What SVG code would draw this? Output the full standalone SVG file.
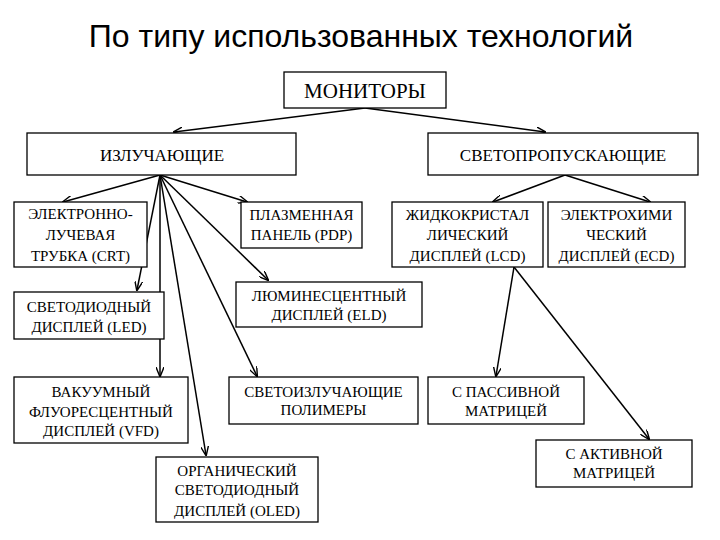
<svg xmlns="http://www.w3.org/2000/svg" width="720" height="540" viewBox="0 0 720 540">
<defs>
<marker id="arr" viewBox="0 0 10 8" refX="9" refY="4" markerWidth="10" markerHeight="8" markerUnits="userSpaceOnUse" orient="auto">
<path d="M0,0 L10,4 L0,8" fill="none" stroke="#000" stroke-width="1.4"/>
</marker>
<style>
.box{fill:#fff;stroke:#000;stroke-width:1.3}
.t{font-size:15px;text-anchor:middle;fill:#000}
.big{font-size:17px}
.title{font-family:'Liberation Sans',Arial,sans-serif;font-size:32px;text-anchor:middle;fill:#000}
.c{stroke:#000;stroke-width:1.5;fill:none;marker-end:url(#arr)}
</style>
</defs>
<rect width="720" height="540" fill="#fff"/>
<text class="title" x="361" y="47">По типу использованных технологий</text>
<g id="connectors">
<line class="c" x1="365" y1="108" x2="174" y2="132"/>
<line class="c" x1="365" y1="108" x2="545" y2="132"/>
<line class="c" x1="565" y1="175" x2="493" y2="202"/>
<line class="c" x1="565" y1="175" x2="650" y2="202"/>
<line class="c" x1="514" y1="267" x2="496" y2="376"/>
<line class="c" x1="514" y1="267" x2="649" y2="439"/>
<line class="c" x1="160" y1="175" x2="63" y2="202"/>
<line class="c" x1="160" y1="175" x2="247" y2="202"/>
<line class="c" x1="160" y1="175" x2="137" y2="290"/>
<line class="c" x1="160" y1="175" x2="268" y2="280"/>
<line class="c" x1="160" y1="175" x2="160" y2="376"/>
<line class="c" x1="160" y1="175" x2="206" y2="455"/>
<line class="c" x1="160" y1="175" x2="257" y2="376"/>
</g>
<g id="nodes" font-family="Liberation Serif, Tinos, Times New Roman, DejaVu Serif, serif">
<g id="monitors"><rect class="box" x="284" y="72" width="162" height="36"/><text class="t" style="font-size:21px" x="365" y="98">МОНИТОРЫ</text></g>
<g id="emitting"><rect class="box" x="27" y="133" width="269" height="42"/><text class="t big" x="162" y="161">ИЗЛУЧАЮЩИЕ</text></g>
<g id="transmitting"><rect class="box" x="428" y="133" width="270" height="42"/><text class="t big" x="563" y="161">СВЕТОПРОПУСКАЮЩИЕ</text></g>
<g id="crt"><rect class="box" x="14" y="202" width="133" height="65"/><text class="t" x="80.5" y="219">ЭЛЕКТРОННО-</text><text class="t" x="80.5" y="240">ЛУЧЕВАЯ</text><text class="t" x="80.5" y="261">ТРУБКА (CRT)</text></g>
<g id="pdp"><rect class="box" x="241" y="202" width="121" height="46"/><text class="t" x="301.5" y="220">ПЛАЗМЕННАЯ</text><text class="t" x="301.5" y="240">ПАНЕЛЬ (PDP)</text></g>
<g id="lcd"><rect class="box" x="392" y="202" width="151" height="65"/><text class="t" x="467.5" y="220">ЖИДКОКРИСТАЛ</text><text class="t" x="467.5" y="240">ЛИЧЕСКИЙ</text><text class="t" x="467.5" y="261">ДИСПЛЕЙ (LCD)</text></g>
<g id="ecd"><rect class="box" x="548" y="202" width="137" height="65"/><text class="t" x="616.5" y="220">ЭЛЕКТРОХИМИ</text><text class="t" x="616.5" y="240">ЧЕСКИЙ</text><text class="t" x="616.5" y="261">ДИСПЛЕЙ (ECD)</text></g>
<g id="led"><rect class="box" x="14" y="292" width="150" height="47"/><text class="t" x="89" y="312">СВЕТОДИОДНЫЙ</text><text class="t" x="89" y="332">ДИСПЛЕЙ (LED)</text></g>
<g id="eld"><rect class="box" x="236" y="282" width="186" height="45"/><text class="t" x="329" y="301">ЛЮМИНЕСЦЕНТНЫЙ</text><text class="t" x="329" y="320">ДИСПЛЕЙ (ELD)</text></g>
<g id="vfd"><rect class="box" x="14" y="377" width="174" height="66"/><text class="t" x="101" y="397">ВАКУУМНЫЙ</text><text class="t" x="101" y="417">ФЛУОРЕСЦЕНТНЫЙ</text><text class="t" x="101" y="436">ДИСПЛЕЙ (VFD)</text></g>
<g id="lep"><rect class="box" x="229" y="377" width="189" height="47"/><text class="t" x="323.5" y="397">СВЕТОИЗЛУЧАЮЩИЕ</text><text class="t" x="323.5" y="415">ПОЛИМЕРЫ</text></g>
<g id="passive"><rect class="box" x="428" y="377" width="156" height="47"/><text class="t" x="506" y="397">С ПАССИВНОЙ</text><text class="t" x="506" y="416">МАТРИЦЕЙ</text></g>
<g id="active"><rect class="box" x="536" y="440" width="156" height="47"/><text class="t" x="614" y="459">С АКТИВНОЙ</text><text class="t" x="614" y="478">МАТРИЦЕЙ</text></g>
<g id="oled"><rect class="box" x="156" y="457" width="162" height="65"/><text class="t" x="237" y="476">ОРГАНИЧЕСКИЙ</text><text class="t" x="237" y="495">СВЕТОДИОДНЫЙ</text><text class="t" x="237" y="516">ДИСПЛЕЙ (OLED)</text></g>
</g>
</svg>
